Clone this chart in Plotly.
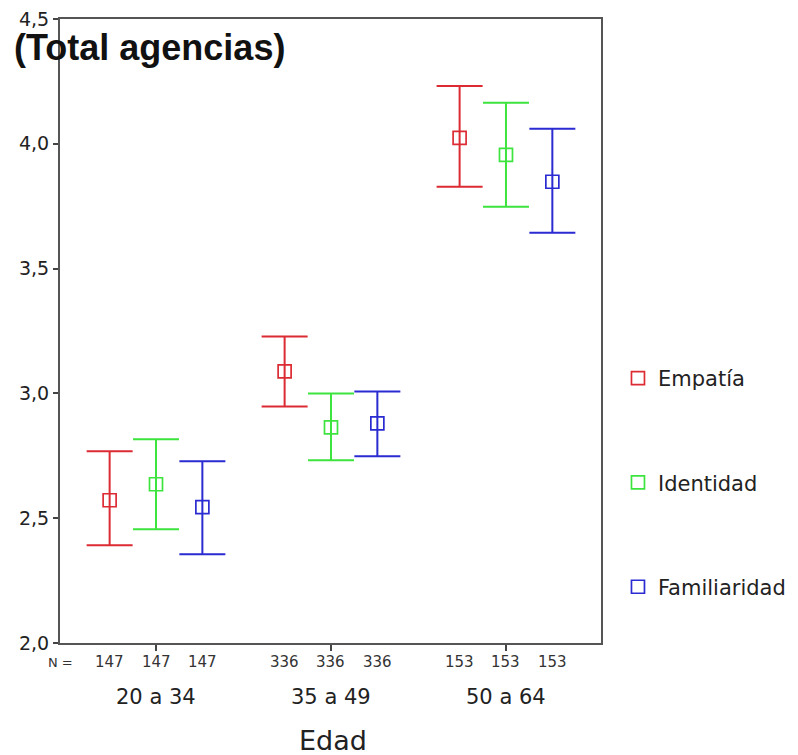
import plotly.graph_objects as go

# ---- data ----
categories = ["20 a 34", "35 a 49", "50 a 64"]
series = ["Empatía", "Identidad", "Familiaridad"]
n_values = [147, 336, 153]

means = {
    "Empatía":      [2.572, 3.088, 4.024],
    "Identidad":    [2.636, 2.864, 3.956],
    "Familiaridad": [2.544, 2.880, 3.848],
}
upper = {
    "Empatía":      [2.768, 3.228, 4.232],
    "Identidad":    [2.816, 3.000, 4.164],
    "Familiaridad": [2.728, 3.008, 4.060],
}
lower = {
    "Empatía":      [2.392, 2.948, 3.828],
    "Identidad":    [2.456, 2.732, 3.748],
    "Familiaridad": [2.356, 2.748, 3.644],
}
y_ticks = [2.0, 2.5, 3.0, 3.5, 4.0, 4.5]

colors = {"Empatía": "#dc2b33", "Identidad": "#3ee43e", "Familiaridad": "#2b2bd2"}
offsets = {"Empatía": -0.265, "Identidad": 0.0, "Familiaridad": 0.265}

FONT = "DejaVu Sans"

fig = go.Figure()
cat_pos = [i + 1 for i in range(len(categories))]

for s in series:
    xs = [c + offsets[s] for c in cat_pos]
    m = means[s]
    fig.add_trace(go.Scatter(
        x=xs, y=m, mode="markers", name=s, legendgroup=s,
        marker=dict(symbol="square-open", size=13, color=colors[s],
                    line=dict(width=1.7, color=colors[s])),
        error_y=dict(type="data", symmetric=False,
                     array=[u - v for u, v in zip(upper[s], m)],
                     arrayminus=[v - l for v, l in zip(m, lower[s])],
                     color=colors[s], thickness=2, width=23),
    ))

# N row
N_Y = -0.0305
fig.add_annotation(x=0, xref="paper", xanchor="center", y=N_Y, yref="paper",
                   yanchor="middle", text="N =", showarrow=False,
                   font=dict(family=FONT, size=13, color="#333"))
for ci, c in enumerate(cat_pos):
    for s in series:
        fig.add_annotation(x=c + offsets[s], xref="x", xanchor="center",
                           y=N_Y, yref="paper", yanchor="middle",
                           text=str(n_values[ci]), showarrow=False,
                           font=dict(family=FONT, size=15, color="#333"))
    fig.add_annotation(x=c, xref="x", xanchor="center", y=-0.0865, yref="paper",
                       yanchor="middle", text=categories[ci], showarrow=False,
                       font=dict(family=FONT, size=21, color="#222"))

fig.add_annotation(x=0.505, xref="paper", xanchor="center", y=-0.1555, yref="paper",
                   yanchor="middle", text="Edad", showarrow=False,
                   font=dict(family=FONT, size=27, color="#222"))

fig.add_annotation(x=-0.0869, xref="paper", xanchor="left", y=0.955, yref="paper",
                   yanchor="middle", text="<b>(Total agencias)</b>", showarrow=False,
                   borderpad=0,
                   font=dict(family="Liberation Sans", size=36, color="#111"))

fig.update_layout(
    width=798, height=755,
    margin=dict(l=60, r=197, t=19, b=112, autoexpand=False),
    paper_bgcolor="white", plot_bgcolor="white",
    separators=",.",
    showlegend=True,
    legend=dict(xref="container", yref="container",
                x=0.7744, xanchor="left", y=0.5258, yanchor="top",
                font=dict(family=FONT, size=21, color="#222"),
                tracegroupgap=74, traceorder="grouped",
                bgcolor="rgba(0,0,0,0)", borderwidth=0),
    font=dict(family=FONT, color="#222"),
)
fig.update_xaxes(range=[0.4514, 3.543], tickvals=cat_pos, showticklabels=False,
                 ticks="outside", ticklen=6, tickwidth=2, tickcolor="#444",
                 showline=True, linecolor="#555", linewidth=2, mirror=True,
                 showgrid=False, zeroline=False)
fig.update_yaxes(range=[2.0, 4.5], tickvals=y_ticks, tickformat=".1f",
                 ticks="outside", ticklen=5, tickwidth=2, tickcolor="#444",
                 showline=True, linecolor="#555", linewidth=2, mirror=True,
                 showgrid=False, zeroline=False,
                 tickfont=dict(family=FONT, size=19, color="#222"))

fig.write_html("out.html")
